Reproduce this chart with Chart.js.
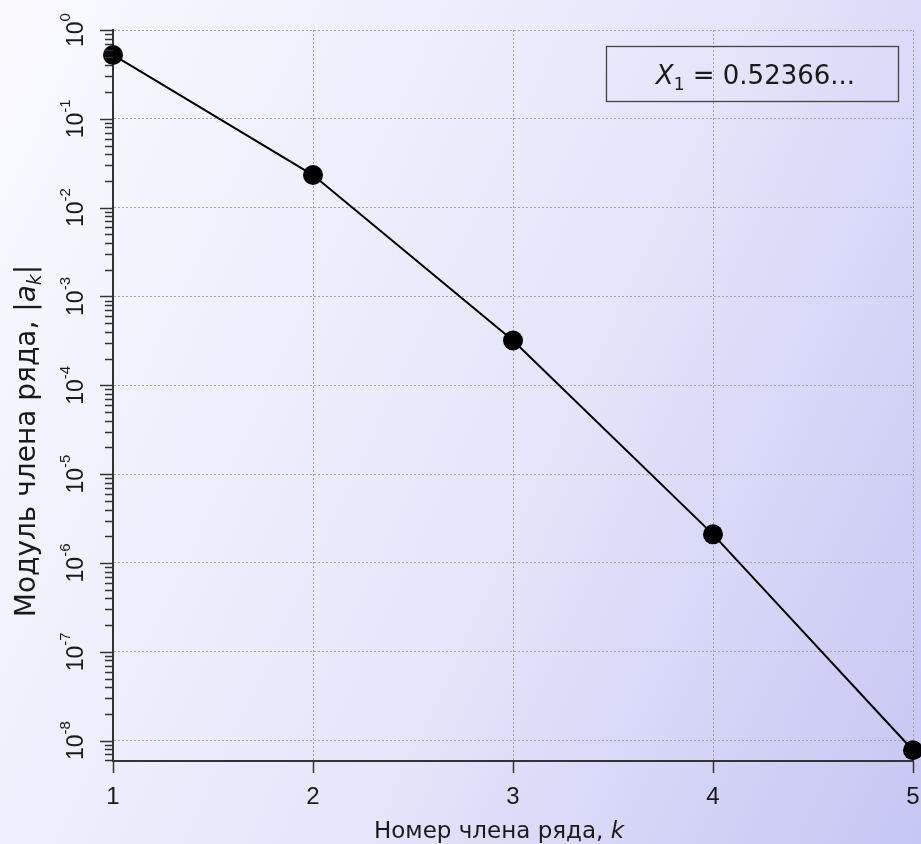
<!DOCTYPE html>
<html>
<head>
<meta charset="utf-8">
<script src="https://cdn.jsdelivr.net/npm/chart.js@4/dist/chart.umd.min.js"></script>
<style>
  html, body { margin: 0; padding: 0; }
  body {
    width: 921px; height: 844px; overflow: hidden;
    background: linear-gradient(115deg, #fafaff 0%, #e6e6fb 55%, #c6c6f4 100%);
  }
  canvas { display: block; }
</style>
</head>
<body>
<canvas id="chart" width="921" height="844"></canvas>
<script>
// series: term number k and modulus of the term |a_k|
const kValues = [1, 2, 3, 4, 5];
const termModules = [0.5237, 0.0233, 3.2e-4, 2.1e-6, 7.8e-9];

// axes
const xTickLabels = ['1', '2', '3', '4', '5'];
const decadeExponents = [0, -1, -2, -3, -4, -5, -6, -7, -8];
const yMin = 5.9e-9;
const yMax = 1;

// texts
const xTitle = ['Номер члена ряда, ', 'k'];
const yTitle = ['Модуль члена ряда, |', 'a', 'k', '|'];
const legendParts = ['X', '1', ' = 0.52366...'];

const isDecade = v => Math.abs(Math.log10(v) - Math.round(Math.log10(v))) < 1e-6;
const SANS = '"Liberation Sans", Arial, sans-serif';
const VERD = '"DejaVu Sans", Verdana, sans-serif';

const decor = {
  id: 'decor',
  afterDraw(chart) {
    const ctx = chart.ctx;
    const area = chart.chartArea;
    const ys = chart.scales.y;

    // y ticks, long at decades, short in between
    ctx.save();
    ctx.strokeStyle = '#333';
    ctx.lineWidth = 1.5;
    ys.ticks.forEach(t => {
      const py = Math.round(ys.getPixelForValue(t.value)) + 0.5;
      const len = isDecade(t.value) ? 13 : 8;
      ctx.beginPath();
      ctx.moveTo(area.left - len, py);
      ctx.lineTo(area.left, py);
      ctx.stroke();
    });
    ctx.restore();

    // y tick labels 10^n, turned
    ctx.save();
    ctx.fillStyle = '#1a1a1a';
    ctx.textBaseline = 'alphabetic';
    ctx.textAlign = 'left';
    decadeExponents.forEach(e => {
      const py = ys.getPixelForValue(Math.pow(10, e));
      const sup = e === 0 ? '0' : '-' + Math.abs(e);
      ctx.font = '23px ' + SANS;
      const w1 = ctx.measureText('10').width;
      ctx.font = '15px ' + SANS;
      const w2 = ctx.measureText(sup).width;
      ctx.save();
      ctx.translate(83, py);
      ctx.rotate(-Math.PI / 2);
      const x0 = -(w1 + w2) / 2;
      ctx.font = '23px ' + SANS;
      ctx.fillText('10', x0, 0);
      ctx.font = '15px ' + SANS;
      ctx.fillText(sup, x0 + w1, -13);
      ctx.restore();
    });
    ctx.restore();

    // x title
    ctx.save();
    ctx.fillStyle = '#1a1a1a';
    ctx.textBaseline = 'alphabetic';
    ctx.textAlign = 'left';
    ctx.font = '23px ' + VERD;
    const xa = ctx.measureText(xTitle[0]).width;
    ctx.font = 'italic 23px ' + VERD;
    const xb = ctx.measureText(xTitle[1]).width;
    const xc = area.left + 386;
    const x = xc - (xa + xb) / 2;
    ctx.font = '23px ' + VERD;
    ctx.fillText(xTitle[0], x, 838);
    ctx.font = 'italic 23px ' + VERD;
    ctx.fillText(xTitle[1], x + xa, 838);
    ctx.restore();

    // y title, turned
    ctx.save();
    ctx.fillStyle = '#1a1a1a';
    ctx.textBaseline = 'alphabetic';
    ctx.textAlign = 'left';
    const fonts = [
      '28px ' + VERD,
      'italic 28px ' + VERD,
      'italic 19px ' + VERD,
      '28px ' + VERD
    ];
    const offs = [0, 0, 6, 0];
    const widths = yTitle.map((s, i) => { ctx.font = fonts[i]; return ctx.measureText(s).width; });
    const total = widths.reduce((a, b) => a + b, 0);
    ctx.translate(35, 441);
    ctx.rotate(-Math.PI / 2);
    let tx = -total / 2;
    yTitle.forEach((s, i) => {
      ctx.font = fonts[i];
      ctx.fillText(s, tx, offs[i]);
      tx += widths[i];
    });
    ctx.restore();

    // legend box
    ctx.save();
    const bw = 292, bh = 55;
    const bx = Math.round(area.right - 15 - bw) + 0.5;
    const by = Math.round(area.top + 16) + 0.5;
    ctx.strokeStyle = '#444';
    ctx.lineWidth = 1.3;
    ctx.strokeRect(bx, by, bw, bh);
    ctx.fillStyle = '#1a1a1a';
    ctx.textBaseline = 'alphabetic';
    ctx.textAlign = 'left';
    const lf = [
      'italic 26px ' + VERD,
      '17px ' + VERD,
      '26px ' + VERD
    ];
    const lo = [0, 6, 0];
    const lw = legendParts.map((s, i) => { ctx.font = lf[i]; return ctx.measureText(s).width; });
    let lx = bx + bw / 2 - lw.reduce((a, b) => a + b, 0) / 2 + 3;
    legendParts.forEach((s, i) => {
      ctx.font = lf[i];
      ctx.fillText(s, lx, by + 37 + lo[i]);
      lx += lw[i];
    });
    ctx.restore();
  }
};

const data = {
  labels: kValues,
  datasets: [{
    data: kValues.map((k, i) => ({ x: k, y: termModules[i] })),
    borderColor: '#000',
    borderWidth: 2,
    backgroundColor: '#000',
    pointRadius: 10,
    pointHoverRadius: 10,
    pointBackgroundColor: '#000',
    pointBorderWidth: 0,
    tension: 0,
    clip: false
  }]
};

const config = {
  type: 'line',
  data: data,
  options: {
    responsive: false,
    animation: false,
    events: [],
    layout: { autoPadding: false, padding: { top: 30, right: 8, left: 0, bottom: 0 } },
    plugins: { legend: { display: false }, tooltip: { enabled: false } },
    scales: {
      x: {
        type: 'linear',
        min: 1,
        max: 5,
        afterFit: s => { s.height = 83; s.paddingLeft = 0; s.paddingRight = 0; },
        ticks: {
          stepSize: 1,
          padding: 10,
          color: '#1a1a1a',
          font: { family: SANS, size: 24 },
          callback: v => xTickLabels[kValues.indexOf(v)]
        },
        grid: { color: '#a3a3a3', lineWidth: 1, tickColor: '#333', tickLength: 12, tickWidth: 1.5 },
        border: { display: true, color: '#333', width: 2, dash: [2, 2] }
      },
      y: {
        type: 'logarithmic',
        min: yMin,
        max: yMax,
        afterFit: s => { s.width = 113; s.paddingTop = 0; s.paddingBottom = 0; },
        afterBuildTicks: s => {
          const ticks = [];
          for (let n = -9; n <= 0; n++) {
            for (let m = 1; m <= 9; m++) {
              const v = m * Math.pow(10, n);
              if (v >= yMin && v <= yMax * 1.0000001) ticks.push({ value: v });
            }
          }
          s.ticks = ticks;
        },
        ticks: { display: false },
        grid: {
          color: c => (c.tick && isDecade(c.tick.value)) ? '#a3a3a3' : 'rgba(0,0,0,0)',
          lineWidth: 1,
          drawTicks: false
        },
        border: { display: true, color: '#333', width: 2, dash: [2, 2] }
      }
    }
  },
  plugins: [decor]
};

const myChart = new Chart(document.querySelector('#chart'), config);
</script>
</body>
</html>
